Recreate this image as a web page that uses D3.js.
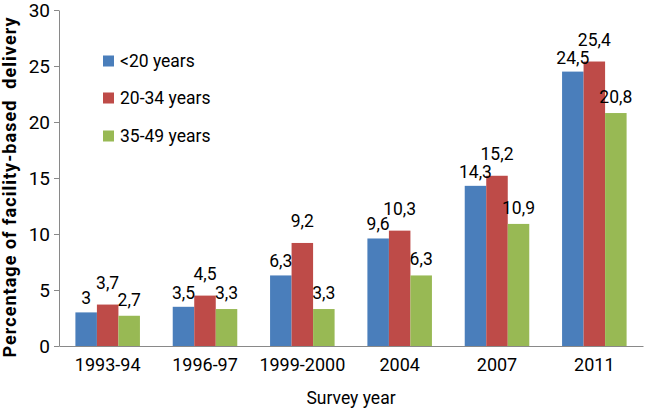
<!DOCTYPE html>
<html>
<head>
<meta charset="utf-8">
<script src="https://cdn.jsdelivr.net/npm/d3@7"></script>
<style>
  html, body { margin: 0; padding: 0; background: #fff; }
  svg { display: block; }
  text { font-family: Roboto, "Open Sans", sans-serif; fill: #000; }
</style>
</head>
<body>
<svg id="chart" width="648" height="410"></svg>
<script>
const categories = ["1993-94", "1996-97", "1999-2000", "2004", "2007", "2011"];
const seriesNames = ["<20 years", "20-34 years", "35-49 years"];
const under20 = [3, 3.5, 6.3, 9.6, 14.3, 24.5];
const age20to34 = [3.7, 4.5, 9.2, 10.3, 15.2, 25.4];
const age35to49 = [2.7, 3.3, 3.3, 6.3, 10.9, 20.8];
const yTicks = [0, 5, 10, 15, 20, 25, 30];
const yTitle = "Percentage of facility-based  delivery";
const xTitle = "Survey year";

const seriesValues = [under20, age20to34, age35to49];
const colors = ["#4A7EBB", "#BE4B48", "#98B954"];
const labelGap = [8, 16, 10];

const svg = d3.select("#chart");
const mLeft = 59, mRight = 643, mTop = 10, mBottom = 346;

const x = d3.scaleBand().domain(categories).range([mLeft, mRight]).padding(0);
const groupW = x.bandwidth() * 0.663;
const xs = d3.scaleBand().domain(d3.range(seriesNames.length))
  .range([(x.bandwidth() - groupW) / 2, (x.bandwidth() + groupW) / 2]);
const y = d3.scaleLinear().domain([0, 30]).range([mBottom, mTop]);

const fmt = v => String(v).replace(".", ",");

// bars
seriesValues.forEach((vals, s) => {
  svg.append("g").selectAll("rect").data(vals).join("rect")
    .attr("x", (d, i) => x(categories[i]) + xs(s))
    .attr("y", d => y(d))
    .attr("width", xs.bandwidth())
    .attr("height", d => y(0) - y(d))
    .attr("fill", colors[s]);
});

// y axis
const yAxis = svg.append("g").attr("transform", `translate(${mLeft},0)`)
  .call(d3.axisLeft(y).tickValues(yTicks).tickSize(5).tickSizeOuter(0).tickPadding(4));
yAxis.select(".domain").attr("stroke", "#898989");
yAxis.selectAll(".tick line").attr("stroke", "#898989");
yAxis.selectAll(".tick text").attr("font-size", 19).attr("font-family", null).attr("fill", "#000");

// x axis
const xAxis = svg.append("g").attr("transform", `translate(0,${mBottom})`)
  .call(d3.axisBottom(x).tickSize(0).tickPadding(12));
xAxis.select(".domain").attr("stroke", "#898989").attr("stroke-width", 1.2);
xAxis.selectAll(".tick text").attr("font-size", 18).attr("font-family", null).attr("fill", "#000");

// data labels
seriesValues.forEach((vals, s) => {
  svg.append("g").selectAll("text").data(vals).join("text")
    .attr("x", (d, i) => x(categories[i]) + xs(s) + xs.bandwidth() / 2)
    .attr("y", d => y(d) - labelGap[s])
    .attr("text-anchor", "middle")
    .attr("font-size", 17.5)
    .text(d => fmt(d));
});

// legend
const lg = svg.append("g").attr("transform", "translate(103,0)");
const legendY = [61, 98, 136];
seriesNames.forEach((n, s) => {
  lg.append("rect").attr("x", 0).attr("y", legendY[s] - 5.5).attr("width", 11).attr("height", 11).attr("fill", colors[s]);
  lg.append("text").attr("x", 17).attr("y", legendY[s]).attr("dy", "0.36em").attr("font-size", 17.5).text(n);
});

// axis titles
svg.append("text")
  .attr("transform", `translate(16,${(360 + 15) / 2}) rotate(-90)`)
  .attr("text-anchor", "middle")
  .attr("font-size", 18)
  .attr("font-weight", "bold")
  .attr("textLength", 340)
  .attr("lengthAdjust", "spacing")
  .style("white-space", "pre")
  .text(yTitle);

svg.append("text")
  .attr("x", 351).attr("y", 404)
  .attr("text-anchor", "middle")
  .attr("font-size", 17.5)
  .text(xTitle);
</script>
</body>
</html>
